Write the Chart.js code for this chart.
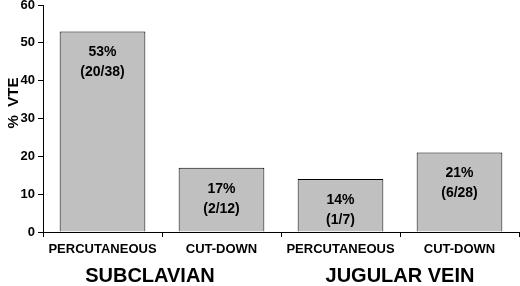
<!DOCTYPE html>
<html><head><meta charset="utf-8">
<script src="https://cdn.jsdelivr.net/npm/chart.js@4/dist/chart.umd.min.js"></script>
<style>html,body{margin:0;padding:0;background:#fff}#w{width:520px;height:286px}</style>
</head><body><div id="w"><canvas id="c"></canvas></div>
<script>
const categories = ["PERCUTANEOUS", "CUT-DOWN", "PERCUTANEOUS", "CUT-DOWN"];
const values = [53, 17, 14, 21];
const barLabels = [["53%", "(20/38)"], ["17%", "(2/12)"], ["14%", "(1/7)"], ["21%", "(6/28)"]];
const groups = ["SUBCLAVIAN", "JUGULAR VEIN"];
const groupOffsets = [-12, 0];
const yTicks = [0, 10, 20, 30, 40, 50, 60];
const yTitle = "%  VTE";

const FONT = "'Liberation Sans', Arial, sans-serif";

const labelPlugin = {
  id: 'lbl',
  afterDatasetsDraw(chart) {
    const ctx = chart.ctx;
    const meta = chart.getDatasetMeta(0);
    ctx.save();
    ctx.fillStyle = '#000';
    ctx.font = 'bold 14px ' + FONT;
    ctx.textAlign = 'center';
    ctx.textBaseline = 'middle';
    meta.data.forEach((bar, i) => {
      const lines = barLabels[i];
      ctx.fillText(lines[0], bar.x, bar.y + 21);
      ctx.fillText(lines[1], bar.x, bar.y + 41);
    });
    // group labels
    const xs = chart.scales.x;
    ctx.font = 'bold 20px ' + FONT;
    groups.forEach((g, gi) => {
      const x = (xs.getPixelForValue(gi * 2) + xs.getPixelForValue(gi * 2 + 1)) / 2 + groupOffsets[gi];
      ctx.fillText(g, x, 276);
    });
    // y title
    const ys = chart.scales.y;
    ctx.font = 'bold 15px ' + FONT;
    ctx.translate(14, 103);
    ctx.rotate(-Math.PI / 2);
    ctx.fillText(yTitle, 0, 0);
    ctx.restore();
  }
};

new Chart(document.getElementById('c'), {
  type: 'bar',
  data: {
    labels: categories,
    datasets: [{
      data: values,
      backgroundColor: '#c0c0c0',
      borderColor: '#000',
      borderWidth: 1,
      categoryPercentage: 1,
      barPercentage: 0.72
    }]
  },
  options: {
    responsive: true,
    maintainAspectRatio: false,
    animation: false,
    layout: { padding: { top: 0, right: 1, bottom: 0, left: 0 } },
    plugins: { legend: { display: false }, tooltip: { enabled: false } },
    scales: {
      x: {
        grid: { display: true, drawOnChartArea: false, offset: true, color: '#000', tickLength: 5 },
        border: { color: '#000', width: 1 },
        ticks: { color: '#000', font: { family: FONT, size: 13, weight: 'bold' }, maxRotation: 0, padding: 5 },
        afterFit(s) { s.height = 54; s.paddingLeft = 0; s.paddingRight = 0; }
      },
      y: {
        min: 0, max: 60,
        afterBuildTicks(s) { s.ticks = yTicks.map(v => ({ value: v })); },
        grid: { display: true, drawOnChartArea: false, color: '#000', tickLength: 5 },
        border: { color: '#000', width: 1 },
        ticks: { color: '#000', font: { family: FONT, size: 13, weight: 'bold' }, padding: 3 },
        afterFit(s) { s.width = 43; s.paddingTop = 5; s.paddingBottom = 0; }
      }
    }
  },
  plugins: [labelPlugin]
});
</script>
</body></html>
